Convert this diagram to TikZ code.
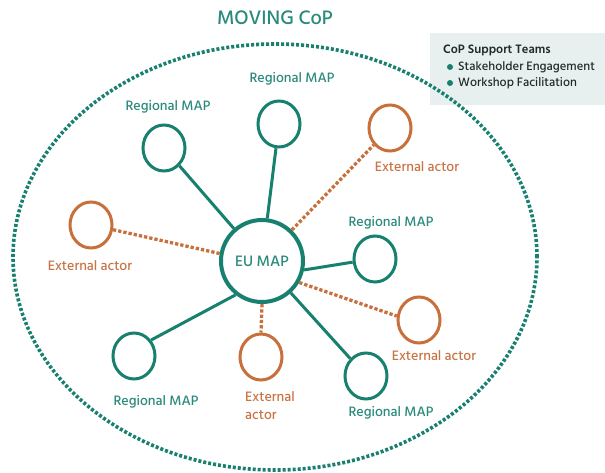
\documentclass[tikz,border=0pt]{standalone}
\usepackage{fontspec}
\setmainfont{Hind Siliguri}
\newfontfamily\hindmed{Hind Siliguri}[UprightFont={* Medium}, BoldFont={* SemiBold}]
\usetikzlibrary{shapes.geometric}
\definecolor{tealc}{HTML}{17806F}
\definecolor{tealt}{HTML}{2A8A7C}
\definecolor{orangec}{HTML}{C8703C}
\definecolor{oranget}{HTML}{C87446}
\definecolor{legendbg}{HTML}{E7F0EF}
\definecolor{legendtx}{HTML}{1E2B2A}
\begin{document}
\begin{tikzpicture}[x=1pt,y=-1pt,
  regbox/.style={draw=tealc, line width=3pt, ellipse, inner sep=0pt, minimum width=42pt, minimum height=46pt},
  extbox/.style={draw=orangec, line width=3pt, ellipse, inner sep=0pt, minimum width=42pt, minimum height=46pt},
  eubox/.style={draw=tealc, line width=4pt, circle, inner sep=0pt, minimum size=82pt, text=tealt, font=\hindmed\fontsize{15.5}{17}\selectfont},
  reglabel/.style={text=tealt, font=\hindmed\fontsize{14}{16}\selectfont, inner sep=0pt},
  extlabel/.style={text=oranget, font=\hindmed\fontsize{14}{16}\selectfont, inner sep=0pt},
  solidlink/.style={draw=tealc, line width=3pt},
  dottedlink/.style={draw=orangec, line width=3.3pt, dash pattern=on 3.3pt off 2pt},
  legtext/.style={text=legendtx, font=\hindmed\fontsize{12.5}{14}\selectfont, anchor=west, inner sep=0pt}
]
\useasboundingbox[fill=white] (0,0) rectangle (605,473);

% legend box
\node[fill=legendbg, minimum width=175pt, minimum height=72pt, inner sep=0pt, anchor=north west] (legend) at (430,33) {};
\node[legtext, font=\hindmed\bfseries\fontsize{12.5}{14}\selectfont] (legtitle) at (443,50) {CoP Support Teams};
\node[circle, fill=tealc, inner sep=0pt, minimum size=6pt] (b1) at (450,67) {};
\node[legtext] (leg1) at (458,67) {Stakeholder Engagement};
\node[circle, fill=tealc, inner sep=0pt, minimum size=6pt] (b2) at (450,83) {};
\node[legtext] (leg2) at (458,83) {Workshop Facilitation};

% community ellipse
\node[draw=tealc, line width=3.6pt, dash pattern=on 3pt off 2pt, ellipse, inner sep=0pt,
      minimum width=524pt, minimum height=426pt] (cop) at (275,257) {};
\node[text=tealt, font=\hindmed\fontsize{20}{22}\selectfont, inner sep=0pt] (title) at (275,18) {MOVING CoP};

% central node
\node[eubox] (eu) at (262,261) {EU MAP};

% regional MAPs
\node[regbox] (r1) at (164,148) {};
\node[regbox] (r2) at (279,124) {};
\node[regbox] (r3) at (375,259) {};
\node[regbox] (r4) at (366,376) {};
\node[regbox] (r5) at (134,356) {};

% external actors
\node[extbox] (e1) at (390,128) {};
\node[extbox] (e2) at (91,225) {};
\node[extbox] (e3) at (419,320) {};
\node[extbox] (e4) at (261,357) {};

% labels
\node[reglabel] (l1) at (168,107) {Regional MAP};
\node[reglabel] (l2) at (292,79) {Regional MAP};
\node[reglabel] (l3) at (391,223) {Regional MAP};
\node[reglabel] (l4) at (391,413) {Regional MAP};
\node[reglabel] (l5) at (156,402) {Regional MAP};
\node[extlabel] (k1) at (417,167) {External actor};
\node[extlabel] (k2) at (90,266) {External actor};
\node[extlabel] (k3) at (434,356) {External actor};
\node[extlabel, align=left, anchor=north west, font=\hindmed\fontsize{14}{18}\selectfont] (k4) at (245,391) {External\\actor};

% connectors
\draw[solidlink] (eu) -- (r1);
\draw[solidlink] (eu) -- (r2);
\draw[solidlink] (eu.-12) -- (r3.188);
\draw[solidlink] (eu) -- (r4);
\draw[solidlink] (eu.232) -- (r5.43);
\draw[dottedlink] (eu) -- (e1);
\draw[dottedlink] (eu.170) -- (e2.-12);
\draw[dottedlink] (eu.-30) -- (e3.170);
\draw[dottedlink] (eu.south) -- (e4.north);
\end{tikzpicture}
\end{document}
